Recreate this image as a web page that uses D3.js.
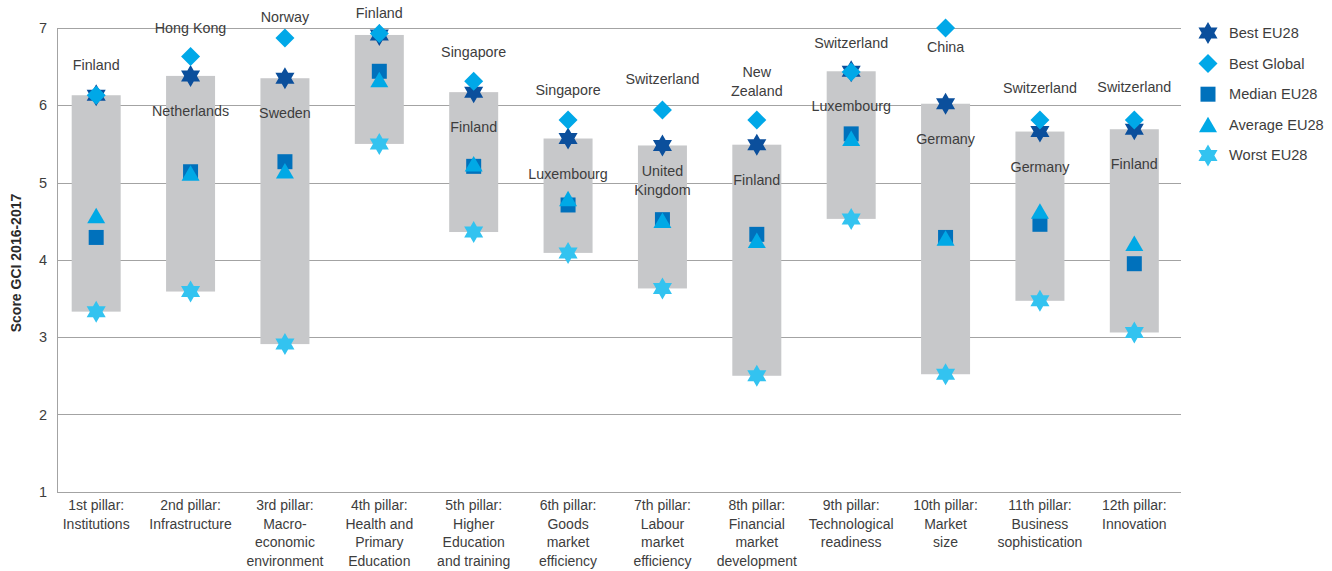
<!DOCTYPE html>
<html><head><meta charset="utf-8">
<script src="https://cdn.jsdelivr.net/npm/d3@7"></script>
<style>
body{margin:0;background:#fff}
text{font-family:"Liberation Sans",Arial,Helvetica,sans-serif}
</style>
</head><body>
<svg id="chart" width="1332" height="571"></svg>
<script>
// ---------- DATA ----------
const categories = [
  "1st pillar:\nInstitutions",
  "2nd pillar:\nInfrastructure",
  "3rd pillar:\nMacro-\neconomic\nenvironment",
  "4th pillar:\nHealth and\nPrimary\nEducation",
  "5th pillar:\nHigher\nEducation\nand training",
  "6th pillar:\nGoods\nmarket\nefficiency",
  "7th pillar:\nLabour\nmarket\nefficiency",
  "8th pillar:\nFinancial\nmarket\ndevelopment",
  "9th pillar:\nTechnological\nreadiness",
  "10th pillar:\nMarket\nsize",
  "11th pillar:\nBusiness\nsophistication",
  "12th pillar:\nInnovation"
];
const bestEU     = [6.13, 6.38, 6.35, 6.91, 6.17, 5.57, 5.48, 5.49, 6.44, 6.02, 5.66, 5.69];
const bestGlobal = [6.13, 6.63, 6.87, 6.93, 6.31, 5.81, 5.94, 5.81, 6.43, 7.00, 5.81, 5.81];
const medianEU   = [4.29, 5.14, 5.27, 6.44, 5.21, 4.71, 4.52, 4.33, 5.63, 4.29, 4.46, 3.95];
const averageEU  = [4.57, 5.12, 5.15, 6.33, 5.24, 4.79, 4.51, 4.25, 5.57, 4.28, 4.63, 4.21];
const worstEU    = [3.33, 3.59, 2.91, 5.50, 4.36, 4.09, 3.63, 2.50, 4.53, 2.52, 3.47, 3.06];
const bestGlobalCountry = ["Finland","Hong Kong","Norway","Finland","Singapore","Singapore",
  "Switzerland","New\nZealand","Switzerland","China","Switzerland","Switzerland"];
const bestEUCountry = ["","Netherlands","Sweden","","Finland","Luxembourg",
  "United\nKingdom","Finland","Luxembourg","Germany","Germany","Finland"];
const yTicks = [1,2,3,4,5,6,7];
const seriesNames = ["Best EU28","Best Global","Median EU28","Average EU28","Worst EU28"];
const yTitle = "Score GCI 2016-2017";

// ---------- LAYOUT ----------
const globalLabelDy = [-30,-29,-21,-20,-29,-30,-31,-29,-29,19,-32,-33];
const euLabelDy = 35;
const colors = {
  bestEU:"#0b4f9c", bestGlobal:"#00a8e8", median:"#0071bc", average:"#00a9e6", worst:"#33c3f0",
  bar:"#c7c8ca", grid:"#a3a3a3", text:"#3d3d3d"
};

const svg = d3.select("#chart");
const x = d3.scaleBand().domain(d3.range(categories.length)).range([49, 1181.5]);
const y = d3.scaleLinear().domain([1,7]).range([491.7, 28]);
const axisX = 57, gridRight = 1181;

// grid
svg.append("g").selectAll("line").data(yTicks).join("line")
  .attr("x1", axisX).attr("x2", gridRight)
  .attr("y1", d => Math.round(y(d))+0.5).attr("y2", d => Math.round(y(d))+0.5)
  .attr("stroke", colors.grid).attr("stroke-width", 1);
svg.append("line").attr("x1", axisX+0.5).attr("x2", axisX+0.5)
  .attr("y1", Math.round(y(7))+0.5).attr("y2", Math.round(y(1))+0.5)
  .attr("stroke", colors.grid);

// y axis tick labels via d3 axis
const yAxis = d3.axisLeft(y).tickValues(yTicks).tickSize(0).tickPadding(10).tickFormat(d3.format("d"));
const ya = svg.append("g").attr("transform", `translate(${axisX},0)`).call(yAxis);
ya.select(".domain").remove();
ya.selectAll("text").attr("font-size", 14.5).attr("fill", colors.text)
  .style("font-family", '"Liberation Sans",Arial,sans-serif');

svg.append("text").attr("transform", `translate(21,${263}) rotate(-90)`)
  .attr("text-anchor","middle").attr("font-size",14).attr("font-weight","bold")
  .attr("fill","#2a2a2a").text(yTitle);

// x labels
const xl = svg.append("g");
categories.forEach((c,i) => {
  const t = xl.append("text").attr("x", x(i)+x.bandwidth()/2).attr("y", 510)
    .attr("text-anchor","middle").attr("font-size",14).attr("fill",colors.text);
  c.split("\n").forEach((ln,k) => {
    t.append("tspan").attr("x", x(i)+x.bandwidth()/2).attr("dy", k===0?0:18.7).text(ln);
  });
});

// bars
const bw = 49;
const cx = i => x(i)+x.bandwidth()/2;
svg.append("g").selectAll("rect").data(categories).join("rect")
  .attr("x", (d,i) => cx(i)-bw/2).attr("width", bw)
  .attr("y", (d,i) => y(bestEU[i])).attr("height", (d,i) => y(worstEU[i]) - y(bestEU[i]))
  .attr("fill", colors.bar);

// symbol paths
function hexStar(R){
  const r = R/Math.sqrt(3); const p=[];
  for(let k=0;k<12;k++){ const a=-Math.PI/2+k*Math.PI/6; const rr=k%2?r:R;
    p.push([rr*Math.cos(a), rr*Math.sin(a)]); }
  return "M"+p.map(q=>q[0].toFixed(2)+","+q[1].toFixed(2)).join("L")+"Z";
}
const shapes = {
  star: hexStar(11),
  diamond: "M0,-9.5L9.5,0L0,9.5L-9.5,0Z",
  square: "M-7.5,-7.5H7.5V7.5H-7.5Z",
  triangle: "M0,-8L9,7.5L-9,7.5Z"
};
function plot(values, shape, color){
  svg.append("g").selectAll("path").data(values).join("path")
    .attr("d", shapes[shape]).attr("fill", color)
    .attr("transform", (d,i) => `translate(${cx(i)},${y(d)})`);
}
plot(worstEU, "star", colors.worst);
plot(bestEU, "star", colors.bestEU);
plot(bestGlobal, "diamond", colors.bestGlobal);
plot(medianEU, "square", colors.median);
plot(averageEU, "triangle", colors.average);

// country labels
const lh = 19;
bestGlobalCountry.forEach((c,i) => {
  const lines = c.split("\n");
  const lastY = y(bestGlobal[i]) + globalLabelDy[i];
  const t = svg.append("text").attr("text-anchor","middle").attr("font-size",14.3).attr("fill",colors.text);
  lines.forEach((ln,k) => {
    t.append("tspan").attr("x", cx(i)).attr("y", lastY - (lines.length-1-k)*lh + 5).text(ln);
  });
});
bestEUCountry.forEach((c,i) => {
  if(!c) return;
  const lines = c.split("\n");
  const center = y(bestEU[i]) + euLabelDy;
  const t = svg.append("text").attr("text-anchor","middle").attr("font-size",14.3).attr("fill",colors.text);
  lines.forEach((ln,k) => {
    t.append("tspan").attr("x", cx(i)).attr("y", center - (lines.length-1)*lh/2 + k*lh + 5).text(ln);
  });
});

// legend
const legShapes = ["star","diamond","square","triangle","star"];
const legColors = [colors.bestEU, colors.bestGlobal, colors.median, colors.average, colors.worst];
const lg = svg.append("g");
seriesNames.forEach((n,k) => {
  const yy = 33 + k*30.6;
  lg.append("path").attr("d", shapes[legShapes[k]]).attr("fill", legColors[k])
    .attr("transform", `translate(1208,${yy})`);
  lg.append("text").attr("x", 1229).attr("y", yy+5).attr("font-size",14.6)
    .attr("fill", colors.text).text(n);
});
</script>
</body></html>
